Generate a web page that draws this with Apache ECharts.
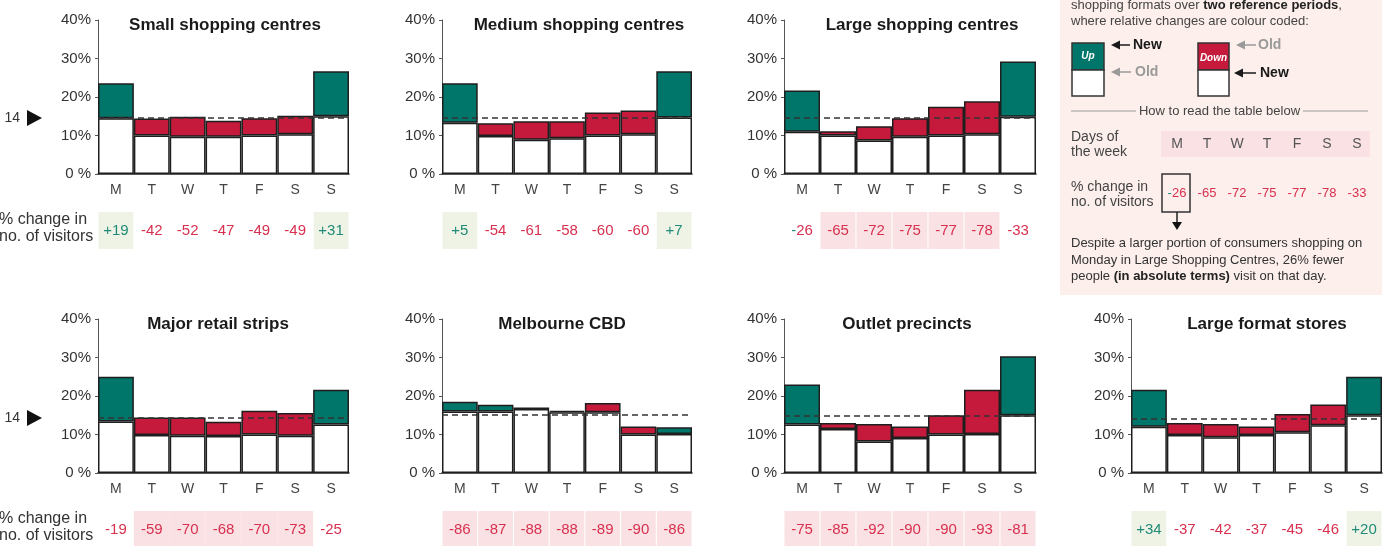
<!DOCTYPE html>
<html><head><meta charset="utf-8">
<script src="https://cdn.jsdelivr.net/npm/echarts/dist/echarts.min.js"></script>
<style>html,body{margin:0;padding:0;background:#fff}#c{width:1391px;height:546px}</style>
</head><body><div id="c"></div><script>
// ---------- data ----------
const days = ['M','T','W','T','F','S','S'];
const yTickValues = [0, 10, 20, 30, 40];
const titles = ['Small shopping centres','Medium shopping centres','Large shopping centres','Major retail strips','Melbourne CBD','Outlet precincts','Large format stores'];

// share of weekly visitors (%) in old and new reference period
const oldSmall  = [14.5, 14.4, 14.9, 13.8, 14.5, 15.1, 15.0];
const newSmall  = [23.6, 10.0,  9.7,  9.7, 10.0, 10.3, 26.7];
const oldMedium = [13.3, 13.2, 13.7, 13.7, 16.0, 16.5, 14.7];
const newMedium = [23.6,  9.9,  8.9,  9.3, 10.0, 10.3, 26.7];
const oldLarge  = [11.0, 11.1, 12.4, 14.5, 17.5, 18.9, 14.9];
const newLarge  = [21.7, 10.0,  8.7,  9.7, 10.0, 10.3, 29.2];
const oldMajor  = [13.4, 14.4, 14.4, 13.3, 16.2, 15.6, 12.6];
const newMajor  = [25.0,  9.9,  9.7,  9.6, 10.0,  9.7, 21.6];
const oldCBD    = [16.0, 16.0, 16.6, 15.8, 18.2, 12.1, 10.1];
const newCBD    = [18.5, 17.7, 17.0, 16.1, 15.8, 10.0, 11.9];
const oldOutlet = [12.6, 13.0, 12.7, 12.1, 15.0, 21.6, 15.0];
const newOutlet = [23.0, 11.4,  8.2,  9.1, 10.0, 10.1, 30.3];
const oldLF     = [12.0, 13.0, 12.7, 12.1, 15.3, 17.8, 15.0];
const newLF     = [21.6,  9.9,  9.3,  9.9, 10.6, 12.4, 25.0];

// % change in number of visitors
const chgSmall  = [19, -42, -52, -47, -49, -49, 31];
const chgMedium = [5, -54, -61, -58, -60, -60, 7];
const chgLarge  = [-26, -65, -72, -75, -77, -78, -33];
const chgMajor  = [-19, -59, -70, -68, -70, -73, -25];
const chgCBD    = [-86, -87, -88, -88, -89, -90, -86];
const chgOutlet = [-75, -85, -92, -90, -90, -93, -81];
const chgLF     = [34, -37, -42, -37, -45, -46, 20];

// table cell highlight: g = green, p = pink, '' = none
const hlSmall  = ['g','','','','','','g'];
const hlMedium = ['g','','','','','','g'];
const hlLarge  = ['','p','p','p','p','p',''];
const hlMajor  = ['','p','p','p','p','p',''];
const hlCBD    = ['p','p','p','p','p','p','p'];
const hlOutlet = ['p','p','p','p','p','p','p'];
const hlLF     = ['g','','','','','','g'];

// average reference line (%)
const avgLines = [14.5, 14.5, 14.5, 14.3, 15.1, 15.0, 14.1];

// ---------- styling / layout ----------
const FONT = '"Liberation Sans", Arial, sans-serif';
const TEAL = '#00766b', RED = '#c51a3b', PINK = '#f9e1e4', GREEN = '#eef3e5';
const TTEAL = '#1f8b78', TRED = '#d8304f', BOX = '#fcefec';
const layout = [
  {x: 98, y: 20, w: 251, tx: 225, gap: '3%'}, {x: 442, y: 20, w: 250, tx: 579, gap: '3%'}, {x: 784, y: 20, w: 252, tx: 922, gap: '3%'},
  {x: 98, y: 319, w: 251, tx: 218, gap: '0%'}, {x: 442, y: 319, w: 250, tx: 562, gap: '3%'}, {x: 784, y: 319, w: 252, tx: 907, gap: '3%'},
  {x: 1131, y: 319, w: 251, tx: 1267, gap: '3%'}
];
const PH = 154;

const panels = [
  [oldSmall, newSmall, chgSmall, hlSmall],
  [oldMedium, newMedium, chgMedium, hlMedium],
  [oldLarge, newLarge, chgLarge, hlLarge],
  [oldMajor, newMajor, chgMajor, hlMajor],
  [oldCBD, newCBD, chgCBD, hlCBD],
  [oldOutlet, newOutlet, chgOutlet, hlOutlet],
  [oldLF, newLF, chgLF, hlLF]
];

const grid = [], xAxis = [], yAxis = [], series = [], graphic = [];

panels.forEach((p, i) => {
  const [oldV, newV, chg, hl] = p;
  const L = layout[i];
  grid.push({left: L.x, top: L.y, width: L.w, height: PH, outerBoundsMode: 'none', containLabel: false});
  grid.push({left: L.x, top: L.y + 192, width: L.w, height: 37, outerBoundsMode: 'none', containLabel: false});
  const gi = i * 2;
  xAxis.push({
    type: 'category', gridIndex: gi, data: days,
    axisLine: {show: true, lineStyle: {color: '#222', width: 1.5}},
    axisTick: {show: false},
    axisLabel: {color: '#444', fontSize: 14, fontFamily: FONT, margin: 9}
  });
  xAxis.push({type: 'category', gridIndex: gi + 1, data: days, show: false});
  yAxis.push({
    type: 'value', gridIndex: gi, min: yTickValues[0], max: yTickValues[yTickValues.length - 1], interval: 10,
    splitLine: {show: false},
    axisLine: {show: true, lineStyle: {color: '#555', width: 1}},
    axisTick: {show: true, length: 3, lineStyle: {color: '#555'}},
    axisLabel: {color: '#333', fontSize: 15, fontFamily: FONT, margin: 7,
      formatter: v => v === 0 ? '0 %' : v + '%'}
  });
  yAxis.push({type: 'value', gridIndex: gi + 1, min: 0, max: 1, show: false});

  const border = {borderColor: '#1e1e1e', borderWidth: 1.5};
  series.push({
    type: 'bar', xAxisIndex: gi, yAxisIndex: gi, stack: 's' + i, barCategoryGap: '0%', silent: true,
    data: oldV.map((o, k) => Math.min(o, newV[k])),
    itemStyle: Object.assign({color: '#fff'}, border)
  });
  series.push({
    type: 'bar', xAxisIndex: gi, yAxisIndex: gi, stack: 's' + i, barCategoryGap: '0%', silent: true,
    data: oldV.map((o, k) => ({
      value: +Math.abs(newV[k] - o).toFixed(2),
      itemStyle: Object.assign({color: newV[k] >= o ? TEAL : RED}, border)
    })),
    markLine: {
      silent: true, symbol: 'none', label: {show: false},
      lineStyle: {color: '#333', type: [6, 4], width: 1.5},
      emphasis: {disabled: true},
      data: [{yAxis: avgLines[i]}]
    }
  });
  series.push({
    type: 'bar', xAxisIndex: gi + 1, yAxisIndex: gi + 1, barCategoryGap: L.gap, silent: true,
    data: chg.map((c, k) => ({
      value: 1,
      itemStyle: {color: hl[k] === 'g' ? GREEN : hl[k] === 'p' ? PINK : 'rgba(0,0,0,0)'}
    })),
    label: {
      show: true, position: 'inside', fontSize: 15, fontFamily: FONT,
      formatter: prm => {
        const c = chg[prm.dataIndex];
        if (i === 2 && prm.dataIndex === 0) return '{t|-}{r|' + Math.abs(c) + '}';
        return c > 0 ? '{t|+' + c + '}' : '{r|' + c + '}';
      },
      rich: {
        t: {color: TTEAL, fontSize: 15, fontFamily: FONT},
        r: {color: TRED, fontSize: 15, fontFamily: FONT}
      }
    }
  });
  graphic.push({type: 'text', silent: true, style: {
    text: titles[i], x: L.tx, y: L.y + 5, align: 'center', verticalAlign: 'middle',
    font: 'bold 17px ' + FONT, fill: '#1a1a1a'}});
});

// row markers and left labels
[0, 1].forEach(r => {
  const oy = r * 300;
  graphic.push({type: 'text', silent: true, style: {text: '14', x: 20, y: 118 + oy, align: 'right', verticalAlign: 'middle', font: '14px ' + FONT, fill: '#333'}});
  graphic.push({type: 'polygon', silent: true, shape: {points: [[27, 110 + oy], [27, 126 + oy], [42, 118 + oy]]}, style: {fill: '#111'}});
  const ly = r === 0 ? 220 : 519;
  graphic.push({type: 'text', silent: true, style: {text: '% change in', x: -1, y: ly, verticalAlign: 'middle', font: '16px ' + FONT, fill: '#333'}});
  graphic.push({type: 'text', silent: true, style: {text: 'no. of visitors', x: -1, y: ly + 17, verticalAlign: 'middle', font: '16px ' + FONT, fill: '#333'}});
});

// explanatory box
const F13 = '13px ' + FONT;
const BOLD13 = {fontSize: 13, fontWeight: 'bold', fontFamily: FONT, fill: '#222'};
const bx = 1071;
graphic.push({type: 'rect', silent: true, z: -1, shape: {x: 1060, y: 0, width: 322, height: 295}, style: {fill: BOX}});
graphic.push({type: 'text', silent: true, style: {text: '{n|shopping formats over }{b|two reference periods}{n|,}', x: bx, y: 5, verticalAlign: 'middle', fontSize: 13, fontFamily: FONT, fill: '#333',
  rich: {b: BOLD13, n: {fontSize: 13, fontFamily: FONT, fill: '#444'}}}});
graphic.push({type: 'text', silent: true, style: {text: 'where relative changes are colour coded:', x: bx, y: 21, verticalAlign: 'middle', font: F13, fill: '#444'}});
// Up box
graphic.push({type: 'rect', silent: true, shape: {x: 1072, y: 43, width: 32, height: 27}, style: {fill: TEAL, stroke: '#333', lineWidth: 1.5}});
graphic.push({type: 'rect', silent: true, shape: {x: 1072, y: 70, width: 32, height: 26}, style: {fill: '#fff', stroke: '#333', lineWidth: 1.5}});
graphic.push({type: 'text', silent: true, style: {text: 'Up', x: 1088, y: 56, align: 'center', verticalAlign: 'middle', font: 'italic bold 10px ' + FONT, fill: '#fff'}});
// Down box
graphic.push({type: 'rect', silent: true, shape: {x: 1198, y: 43, width: 31, height: 27}, style: {fill: RED, stroke: '#333', lineWidth: 1.5}});
graphic.push({type: 'rect', silent: true, shape: {x: 1198, y: 70, width: 31, height: 26}, style: {fill: '#fff', stroke: '#333', lineWidth: 1.5}});
graphic.push({type: 'text', silent: true, style: {text: 'Down', x: 1213.5, y: 58, align: 'center', verticalAlign: 'middle', font: 'italic bold 10px ' + FONT, fill: '#fff'}});
function arrow(x0, x1, y, col, label, lx) {
  graphic.push({type: 'line', silent: true, shape: {x1: x0 + 6, y1: y, x2: x1, y2: y}, style: {stroke: col, lineWidth: 1.5}});
  graphic.push({type: 'polygon', silent: true, shape: {points: [[x0, y], [x0 + 9, y - 4.5], [x0 + 9, y + 4.5]]}, style: {fill: col}});
  graphic.push({type: 'text', silent: true, style: {text: label, x: lx, y: y, verticalAlign: 'middle', font: 'bold 14px ' + FONT, fill: col}});
}
arrow(1111, 1130, 45, '#1a1a1a', 'New', 1133);
arrow(1111, 1131, 72, '#9a9a9a', 'Old', 1135);
arrow(1236, 1256, 45, '#9a9a9a', 'Old', 1258);
arrow(1234, 1256, 73, '#1a1a1a', 'New', 1260);
// how to read
graphic.push({type: 'line', silent: true, shape: {x1: 1071, y1: 111, x2: 1136, y2: 111}, style: {stroke: '#999', lineWidth: 1}});
graphic.push({type: 'line', silent: true, shape: {x1: 1303, y1: 111, x2: 1368, y2: 111}, style: {stroke: '#999', lineWidth: 1}});
graphic.push({type: 'text', silent: true, style: {text: 'How to read the table below', x: 1219.5, y: 111, align: 'center', verticalAlign: 'middle', font: F13, fill: '#444'}});
graphic.push({type: 'text', silent: true, style: {text: 'Days of', x: bx, y: 137, verticalAlign: 'middle', font: '14px ' + FONT, fill: '#444'}});
graphic.push({type: 'text', silent: true, style: {text: 'the week', x: bx, y: 152, verticalAlign: 'middle', font: '14px ' + FONT, fill: '#444'}});
graphic.push({type: 'rect', silent: true, shape: {x: 1161, y: 131, width: 209, height: 26}, style: {fill: PINK}});
days.forEach((d, k) => {
  graphic.push({type: 'text', silent: true, style: {text: d, x: 1177 + 30 * k, y: 144, align: 'center', verticalAlign: 'middle', font: '14px ' + FONT, fill: '#555'}});
  const c = chgLarge[k];
  const txt = k === 0 ? '{t|-}{r|' + Math.abs(c) + '}' : '{r|' + c + '}';
  graphic.push({type: 'text', silent: true, style: {text: txt, x: 1177 + 30 * k, y: 193, align: 'center', verticalAlign: 'middle', fontSize: 13, fontFamily: FONT, fill: TRED,
    rich: {t: {fill: TTEAL, fontSize: 13, fontFamily: FONT}, r: {fill: TRED, fontSize: 13, fontFamily: FONT}}}});
});
graphic.push({type: 'text', silent: true, style: {text: '% change in', x: bx, y: 187, verticalAlign: 'middle', font: '14px ' + FONT, fill: '#444'}});
graphic.push({type: 'text', silent: true, style: {text: 'no. of visitors', x: bx, y: 202, verticalAlign: 'middle', font: '14px ' + FONT, fill: '#444'}});
graphic.push({type: 'rect', silent: true, shape: {x: 1162, y: 174, width: 28, height: 38}, style: {fill: 'none', stroke: '#333', lineWidth: 1.5}});
graphic.push({type: 'line', silent: true, shape: {x1: 1177, y1: 212, x2: 1177, y2: 223}, style: {stroke: '#222', lineWidth: 1.5}});
graphic.push({type: 'polygon', silent: true, shape: {points: [[1172, 222], [1182, 222], [1177, 230]]}, style: {fill: '#111'}});
graphic.push({type: 'text', silent: true, style: {text: 'Despite a larger portion of consumers shopping on', x: bx, y: 243, verticalAlign: 'middle', font: F13, fill: '#333'}});
graphic.push({type: 'text', silent: true, style: {text: 'Monday in Large Shopping Centres, 26% fewer', x: bx, y: 260, verticalAlign: 'middle', font: F13, fill: '#333'}});
graphic.push({type: 'text', silent: true, style: {text: '{n|people }{b|(in absolute terms)}{n| visit on that day.}', x: bx, y: 276, verticalAlign: 'middle', fontSize: 13, fontFamily: FONT, fill: '#333',
  rich: {b: BOLD13, n: {fontSize: 13, fontFamily: FONT, fill: '#333'}}}});

const chart = echarts.init(document.getElementById('c'), null, {renderer: 'canvas'});
chart.setOption({
  animation: false,
  backgroundColor: '#fff',
  textStyle: {fontFamily: FONT},
  grid, xAxis, yAxis, series, graphic
});
</script></body></html>
